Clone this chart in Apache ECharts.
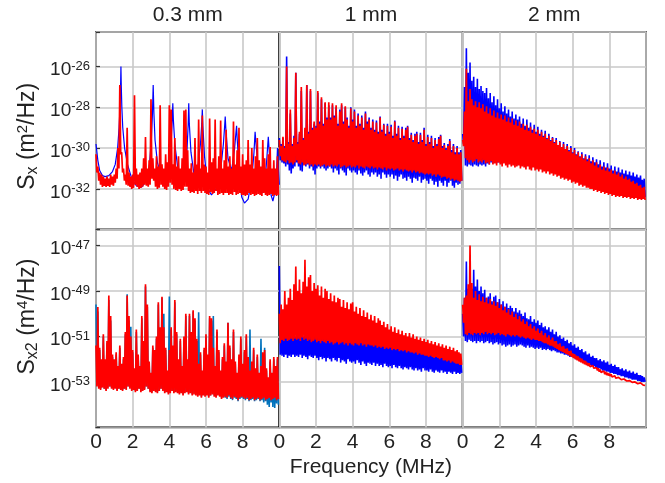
<!DOCTYPE html>
<html>
<head>
<meta charset="utf-8">
<script src="https://cdn.jsdelivr.net/npm/echarts@6/dist/echarts.min.js"></script>
<style>
  html, body { margin: 0; padding: 0; background: #fff; }
  #chart { width: 665px; height: 483px; }
</style>
</head>
<body>
<div id="chart"></div>
<script>
// Displacement noise spectra for three thicknesses: S_x (top row) and S_x2 (bottom row).
// All spectra are stored as log10 of the PSD. Dense traces are stored as upper (Hi)
// and lower (Lo) excursions sampled every 0.1 MHz from 0 to 9.9 MHz.

const thicknesses = ['0.3 mm', '1 mm', '2 mm'];
const freqTicks = [0, 2, 4, 6, 8];
const sxExponents = [-32, -30, -28, -26];
const sx2Exponents = [-53, -51, -49, -47];
const sxRange = [-34, -24.301];
const sx2Range = [-55, -46.301];
const sampleStep = 0.1;

// ---------- S_x, 0.3 mm ----------
// blue trace: [frequency MHz, log10 Sx]
const sxThinBlue = [
  [0,-29.8],[0.1,-30.6],[0.2,-31.1],[0.35,-31.35],[0.5,-31.4],[0.7,-31.35],[0.9,-31.15],[1.05,-30.8],[1.18,-30.0],[1.26,-29.0],
  [1.31,-28.0],[1.34,-27.0],[1.36,-26.0],[1.38,-27.0],[1.41,-28.0],[1.46,-29.0],[1.56,-30.0],[1.72,-30.8],[1.95,-31.5],[2.2,-31.85],
  [2.5,-31.9],[2.75,-31.6],[2.92,-30.8],[3.02,-29.6],[3.08,-28.3],[3.12,-26.9],[3.16,-28.3],[3.22,-29.6],[3.35,-30.7],[3.6,-31.5],
  [3.85,-31.4],[4.0,-30.8],[4.1,-29.7],[4.16,-28.6],[4.19,-27.8],[4.22,-28.6],[4.3,-29.8],[4.45,-30.9],[4.7,-31.8],[4.85,-31.3],
  [4.97,-30.0],[5.03,-28.8],[5.06,-27.8],[5.09,-28.8],[5.18,-30.2],[5.35,-31.3],[5.55,-31.0],[5.7,-29.8],[5.77,-28.8],[5.8,-28.1],
  [5.83,-28.9],[5.92,-30.4],[6.1,-32.0],[6.3,-32.3],[6.55,-32.0],[6.8,-31.1],[6.95,-29.8],[7.02,-28.9],[7.05,-28.45],[7.08,-29.0],
  [7.2,-30.5],[7.4,-31.1],[7.55,-30.1],[7.63,-29.3],[7.67,-28.9],[7.7,-29.5],[7.8,-31.0],[7.95,-32.4],[8.1,-32.7],[8.3,-32.5],
  [8.5,-31.5],[8.62,-30.2],[8.68,-29.2],[8.73,-29.8],[8.85,-31.0],[9.05,-32.2],[9.2,-31.9],[9.32,-30.5],[9.4,-29.45],[9.46,-30.3],
  [9.55,-32.3],[9.65,-32.6],[9.75,-32.2],[9.85,-31.2],[9.9,-30.0],[9.95,-31.0],[10,-31.8]
];
const sxThinRedHi = [
  -30.3,-30.9,-31.2,-31.3,-31.4,-31.5,-31.4,-31.5,-31.3,-31.4,
  -31.3,-31.0,-30.0,-26.9,-30.2,-31.0,-31.3,-29.0,-31.2,-31.4,
  -31.3,-27.4,-31.0,-31.3,-31.2,-31.0,-30.5,-29.45,-31.0,-30.6,
  -27.6,-30.5,-31.0,-30.4,-30.9,-27.9,-30.8,-31.0,-30.3,-30.7,
  -27.9,-28.1,-30.8,-29.5,-30.9,-30.4,-31.0,-30.5,-28.15,-28.1,
  -30.1,-31.0,-30.75,-31.2,-29.5,-30.8,-28.6,-31.0,-28.4,-30.8,
  -30.9,-31.2,-28.55,-30.7,-30.5,-28.6,-31.0,-30.4,-28.65,-31.0,
  -30.6,-29.1,-30.9,-30.4,-31.0,-28.7,-30.8,-30.1,-29.0,-30.9,
  -30.3,-30.8,-30.6,-29.6,-30.8,-30.0,-31.0,-30.4,-29.5,-30.6,
  -30.9,-29.6,-30.5,-31.0,-30.3,-29.95,-31.0,-30.6,-31.0,-30.4
];
const sxThinRedLo = [
  -31.2,-31.6,-31.8,-31.9,-31.85,-31.9,-31.85,-31.9,-31.8,-31.85,
  -31.7,-31.5,-31.0,-30.3,-31.2,-31.6,-31.8,-31.85,-31.9,-32.0,
  -31.95,-31.8,-31.9,-32.0,-31.95,-31.9,-31.8,-31.85,-31.9,-31.8,
  -31.5,-31.6,-31.9,-32.0,-31.95,-31.8,-31.9,-32.0,-32.05,-31.9,
  -31.7,-31.8,-32.0,-32.05,-32.1,-32.0,-32.1,-32.05,-31.9,-31.9,
  -32.1,-32.2,-32.15,-32.2,-32.1,-32.25,-32.1,-32.2,-32.1,-32.2,
  -32.25,-32.3,-32.15,-32.25,-32.2,-32.1,-32.3,-32.25,-32.2,-32.3,
  -32.2,-32.2,-32.3,-32.25,-32.3,-32.15,-32.3,-32.25,-32.2,-32.3,
  -32.3,-32.35,-32.3,-32.2,-32.3,-32.25,-32.35,-32.3,-32.25,-32.3,
  -32.35,-32.2,-32.3,-32.35,-32.3,-32.25,-32.35,-32.3,-32.35,-32.3
];

// ---------- S_x, 1 mm ----------
const sxMidBlueHi = [
  -29.5,-29.8,-29.5,-29.9,-25.5,-29.7,-28.3,-29.8,-29.4,-26.3,
  -29.7,-29.3,-27.2,-29.5,-29.1,-26.9,-29.2,-27.2,-29.0,-28.8,
  -28.9,-27.3,-28.7,-27.6,-28.8,-27.8,-28.5,-27.9,-28.5,-27.9,
  -28.4,-28.0,-28.8,-28.1,-27.9,-28.7,-28.0,-28.5,-28.9,-28.0,
  -28.6,-28.1,-28.9,-28.3,-28.8,-28.4,-29.0,-28.2,-28.7,-28.5,
  -29.0,-28.6,-29.1,-28.65,-29.2,-28.45,-29.1,-28.8,-29.3,-28.8,
  -29.2,-28.85,-29.4,-28.65,-29.3,-28.9,-29.5,-28.95,-29.4,-29.0,
  -28.9,-29.5,-29.25,-29.6,-29.3,-29.2,-29.7,-29.25,-29.6,-29.0,
  -29.8,-29.35,-29.7,-29.4,-29.9,-29.5,-29.8,-29.45,-29.35,-29.9,
  -29.75,-30.0,-29.8,-29.55,-30.1,-29.8,-30.2,-29.9,-30.2,-30.1
];
const sxMidBlueLo = [
  -30.6,-30.7,-30.75,-30.9,-30.8,-31.1,-31.25,-31.0,-30.9,-30.7,
  -30.9,-31.1,-31.15,-30.8,-30.9,-30.8,-31.0,-30.9,-31.1,-31.3,
  -31.0,-30.9,-31.0,-30.9,-31.0,-31.1,-31.0,-30.9,-31.0,-31.2,
  -31.0,-31.1,-31.3,-31.0,-31.1,-31.2,-31.35,-31.0,-31.1,-31.2,
  -31.1,-31.2,-31.3,-31.1,-31.25,-31.35,-31.2,-31.1,-31.3,-31.4,
  -31.2,-31.3,-31.2,-31.4,-31.3,-31.5,-31.2,-31.3,-31.45,-31.3,
  -31.4,-31.3,-31.5,-31.35,-31.6,-31.4,-31.3,-31.5,-31.45,-31.6,
  -31.4,-31.5,-31.7,-31.45,-31.5,-31.6,-31.4,-31.7,-31.55,-31.5,
  -31.6,-31.75,-31.5,-31.6,-31.8,-31.65,-31.9,-31.6,-31.7,-31.85,
  -31.6,-31.9,-31.7,-31.6,-31.85,-31.95,-31.7,-31.8,-31.75,-31.6
];
const sxMidRedHi = [
  -29.6,-29.9,-29.45,-30.0,-26.0,-29.8,-28.1,-29.9,-29.5,-26.3,
  -29.8,-29.2,-27.0,-29.6,-29.0,-26.9,-29.3,-27.1,-29.1,-28.7,
  -29.0,-27.2,-28.8,-27.5,-28.9,-27.75,-28.6,-27.75,-28.6,-27.8,
  -28.5,-27.9,-28.9,-28.2,-27.8,-28.8,-27.95,-28.6,-29.0,-28.05,
  -28.7,-28.2,-29.0,-28.4,-28.9,-28.5,-29.1,-28.3,-28.8,-28.6,
  -29.1,-28.7,-29.2,-28.75,-29.3,-28.5,-29.2,-28.85,-29.4,-28.9,
  -29.3,-28.95,-29.5,-28.7,-29.4,-29.0,-29.6,-29.05,-29.5,-29.1,
  -28.95,-29.6,-29.35,-29.7,-29.4,-29.3,-29.8,-29.35,-29.7,-29.1,
  -29.9,-29.45,-29.8,-29.5,-30.0,-29.6,-29.9,-29.55,-29.4,-30.0,
  -29.85,-30.1,-29.9,-29.65,-30.2,-29.9,-30.3,-30.0,-30.3,-30.2
];
const sxMidRedLo = [
  -30.4,-30.6,-30.65,-30.7,-30.6,-30.75,-30.7,-30.8,-30.7,-30.6,
  -30.75,-30.8,-30.7,-30.85,-30.8,-30.75,-30.85,-30.8,-30.9,-30.8,
  -30.85,-30.8,-30.9,-30.85,-30.8,-30.9,-30.85,-30.9,-30.8,-30.9,
  -30.85,-30.9,-30.8,-30.95,-30.9,-30.85,-30.95,-30.9,-30.85,-30.95,
  -30.9,-30.95,-30.85,-31.0,-30.9,-30.95,-31.0,-30.9,-30.95,-31.0,
  -30.9,-31.0,-30.95,-31.05,-30.95,-31.0,-31.05,-30.95,-31.1,-31.0,
  -31.05,-31.0,-31.1,-31.05,-31.0,-31.1,-31.05,-31.15,-31.05,-31.1,
  -31.15,-31.1,-31.2,-31.1,-31.2,-31.15,-31.25,-31.2,-31.25,-31.3,
  -31.25,-31.3,-31.25,-31.35,-31.3,-31.4,-31.3,-31.35,-31.45,-31.4,
  -31.4,-31.5,-31.45,-31.55,-31.5,-31.6,-31.55,-31.6,-31.65,-31.6
];

// ---------- S_x, 2 mm ----------
const sxThickBlueHi = [
  -29.3,-27.0,-25.1,-26.3,-25.8,-26.7,-26.5,-27.0,-26.6,-27.1,
  -26.95,-27.2,-27.3,-27.05,-27.55,-27.3,-27.75,-27.45,-27.9,-27.6,
  -28.05,-27.8,-28.2,-27.95,-28.3,-28.1,-28.45,-28.2,-28.55,-28.35,
  -28.6,-28.45,-28.8,-28.55,-28.9,-28.6,-29.0,-28.75,-29.1,-28.85,
  -29.2,-28.95,-29.3,-29.1,-29.4,-29.15,-29.5,-29.3,-29.6,-29.45,
  -29.7,-29.5,-29.85,-29.65,-29.95,-29.7,-30.05,-29.8,-30.1,-29.9,
  -30.2,-30.0,-30.3,-30.15,-30.4,-30.2,-30.5,-30.3,-30.55,-30.35,
  -30.65,-30.45,-30.7,-30.55,-30.8,-30.6,-30.9,-30.7,-30.95,-30.75,
  -31.0,-30.85,-31.1,-30.9,-31.15,-30.95,-31.2,-31.05,-31.25,-31.1,
  -31.3,-31.15,-31.35,-31.2,-31.4,-31.3,-31.45,-31.35,-31.55,-31.5
];
const sxThickBlueLo = [
  -29.8,-30.85,-30.9,-30.8,-30.85,-30.9,-30.8,-30.85,-30.9,-30.8,
  -30.85,-30.8,-30.9,-30.75,-30.8,-30.7,-30.75,-30.7,-30.75,-30.7,
  -30.7,-30.75,-30.7,-30.75,-30.8,-30.75,-30.8,-30.75,-30.8,-30.85,
  -30.8,-30.85,-30.82,-30.85,-30.9,-30.85,-30.9,-30.95,-30.9,-30.95,
  -30.95,-30.98,-31.0,-31.05,-31.05,-31.1,-31.1,-31.15,-31.15,-31.2,
  -31.2,-31.25,-31.25,-31.3,-31.3,-31.35,-31.4,-31.4,-31.45,-31.5,
  -31.5,-31.55,-31.6,-31.6,-31.65,-31.7,-31.7,-31.75,-31.8,-31.8,
  -31.85,-31.85,-31.9,-31.9,-31.95,-31.95,-32.0,-32.0,-32.05,-32.05,
  -32.1,-32.1,-32.1,-32.15,-32.15,-32.2,-32.2,-32.2,-32.25,-32.25,
  -32.25,-32.3,-32.3,-32.3,-32.3,-32.35,-32.35,-32.35,-32.35,-32.4
];
const sxThickRedHi = [
  -29.6,-28.2,-26.1,-27.7,-27.1,-27.6,-27.9,-27.7,-28.0,-27.75,
  -28.05,-27.85,-28.2,-27.95,-28.3,-28.05,-28.4,-28.15,-28.5,-28.25,
  -28.55,-28.35,-28.6,-28.4,-28.7,-28.5,-28.75,-28.55,-28.85,-28.65,
  -28.9,-28.7,-29.0,-28.8,-29.1,-28.85,-29.15,-28.95,-29.25,-29.05,
  -29.3,-29.1,-29.4,-29.2,-29.45,-29.3,-29.55,-29.4,-29.65,-29.5,
  -29.75,-29.6,-29.85,-29.7,-29.95,-29.8,-30.05,-29.9,-30.15,-30.0,
  -30.25,-30.1,-30.35,-30.2,-30.45,-30.3,-30.55,-30.4,-30.65,-30.5,
  -30.75,-30.6,-30.85,-30.7,-30.95,-30.8,-31.05,-30.9,-31.1,-30.95,
  -31.15,-31.05,-31.25,-31.1,-31.3,-31.2,-31.4,-31.3,-31.5,-31.4,
  -31.55,-31.5,-31.65,-31.6,-31.75,-31.7,-31.85,-31.8,-31.95,-31.9
];
const sxThickRedLo = [
  -29.9,-30.5,-30.6,-30.7,-30.6,-30.7,-30.65,-30.55,-30.7,-30.65,
  -30.7,-30.6,-30.75,-30.7,-30.8,-30.65,-30.8,-30.75,-30.85,-30.7,
  -30.8,-30.9,-30.75,-30.85,-30.95,-30.8,-30.9,-30.85,-30.95,-30.9,
  -30.85,-31.0,-30.9,-30.95,-31.05,-30.9,-31.05,-31.1,-30.95,-31.1,
  -31.05,-31.15,-31.05,-31.2,-31.15,-31.25,-31.15,-31.3,-31.25,-31.35,
  -31.3,-31.4,-31.35,-31.5,-31.45,-31.55,-31.5,-31.6,-31.55,-31.7,
  -31.65,-31.75,-31.7,-31.85,-31.8,-31.9,-31.85,-31.95,-31.95,-32.0,
  -32.0,-32.1,-32.05,-32.15,-32.1,-32.2,-32.15,-32.25,-32.2,-32.3,
  -32.25,-32.35,-32.3,-32.4,-32.35,-32.4,-32.35,-32.45,-32.4,-32.45,
  -32.4,-32.5,-32.45,-32.5,-32.45,-32.55,-32.5,-32.55,-32.5,-32.55
];

// ---------- S_x2, 0.3 mm ----------
const sx2ThinBlueHi = [
  -49.6,-49.9,-51.6,-52.1,-51.0,-52.1,-51.3,-49.4,-50.3,-51.9,
  -52.1,-51.8,-52.4,-51.5,-52.3,-52.0,-50.9,-49.15,-50.3,-50.57,
  -51.7,-52.5,-50.8,-51.9,-52.4,-50.2,-51.3,-48.8,-49.7,-52.2,
  -52.7,-51.5,-51.7,-51.1,-49.6,-50.7,-49.3,-50.0,-51.6,-52.6,
  -49.24,-50.7,-51.5,-49.5,-50.9,-52.1,-51.2,-52.4,-51.1,-50.1,
  -52.1,-50.1,-50.9,-49.9,-50.3,-51.2,-49.94,-51.8,-52.6,-51.6,
  -51.0,-51.9,-50.2,-50.3,-50.1,-52.4,-50.8,-51.7,-52.6,-52.0,
  -51.4,-52.2,-50.4,-51.5,-52.1,-50.8,-52.2,-52.7,-51.9,-51.1,
  -52.3,-51.7,-51.0,-52.0,-50.7,-52.2,-51.6,-52.5,-51.9,-52.7,
  -51.1,-51.8,-51.5,-52.5,-52.9,-52.1,-52.7,-52.0,-52.4,-52.0
];
const sx2ThinBlueLo = [
  -53.15,-53.25,-53.3,-53.2,-53.3,-53.35,-53.25,-53.2,-53.25,-53.3,
  -53.25,-53.35,-53.3,-53.3,-53.35,-53.3,-53.3,-53.2,-53.25,-53.35,
  -53.3,-53.4,-53.35,-53.3,-53.4,-53.35,-53.3,-53.2,-53.3,-53.4,
  -53.45,-53.35,-53.4,-53.45,-53.4,-53.3,-53.35,-53.45,-53.4,-53.5,
  -53.45,-53.4,-53.45,-53.4,-53.45,-53.5,-53.45,-53.55,-53.45,-53.4,
  -53.5,-53.45,-53.55,-53.5,-53.55,-53.6,-53.55,-53.65,-53.55,-53.6,
  -53.55,-53.65,-53.6,-53.5,-53.6,-53.65,-53.55,-53.6,-53.7,-53.65,
  -53.7,-53.75,-53.65,-53.75,-53.8,-53.7,-53.75,-53.85,-53.75,-53.7,
  -53.75,-53.8,-53.75,-53.85,-53.8,-53.75,-53.85,-53.8,-53.75,-53.85,
  -53.8,-53.9,-53.85,-54.0,-54.1,-53.9,-54.1,-54.15,-53.95,-54.0
];
const sx2ThinRedHi = [
  -51.4,-49.7,-51.5,-52.0,-50.9,-52.0,-51.2,-49.2,-50.1,-51.8,
  -52.0,-51.7,-52.3,-51.4,-52.2,-51.9,-50.8,-49.2,-50.1,-51.0,
  -51.6,-52.4,-50.7,-51.8,-52.3,-50.1,-51.2,-48.7,-49.6,-52.1,
  -52.6,-51.4,-51.6,-51.0,-49.5,-50.6,-49.25,-50.6,-51.5,-52.5,
  -51.6,-50.6,-51.4,-49.4,-50.8,-52.0,-51.1,-52.3,-51.0,-50.0,
  -52.0,-50.0,-50.8,-49.85,-50.2,-51.1,-52.2,-51.7,-52.5,-51.5,
  -50.9,-51.8,-50.1,-50.2,-51.5,-52.3,-50.7,-51.6,-52.5,-51.9,
  -51.3,-52.1,-50.4,-51.4,-52.0,-50.7,-52.1,-52.6,-51.8,-51.0,
  -52.2,-51.6,-50.9,-51.9,-52.5,-52.1,-51.5,-52.4,-51.8,-52.6,
  -52.3,-51.7,-51.6,-52.4,-52.8,-52.0,-52.6,-51.9,-52.3,-51.9
];
const sx2ThinRedLo = [
  -53.2,-53.3,-53.35,-53.25,-53.3,-53.4,-53.3,-53.2,-53.3,-53.35,
  -53.3,-53.4,-53.3,-53.35,-53.4,-53.3,-53.35,-53.2,-53.3,-53.4,
  -53.35,-53.45,-53.4,-53.3,-53.45,-53.4,-53.35,-53.2,-53.3,-53.45,
  -53.5,-53.4,-53.45,-53.5,-53.4,-53.3,-53.4,-53.5,-53.45,-53.55,
  -53.5,-53.4,-53.5,-53.45,-53.5,-53.55,-53.5,-53.6,-53.5,-53.45,
  -53.55,-53.5,-53.6,-53.55,-53.6,-53.65,-53.6,-53.7,-53.6,-53.65,
  -53.6,-53.7,-53.6,-53.55,-53.65,-53.7,-53.6,-53.65,-53.75,-53.7,
  -53.65,-53.7,-53.6,-53.7,-53.75,-53.65,-53.7,-53.8,-53.7,-53.65,
  -53.7,-53.75,-53.7,-53.8,-53.75,-53.7,-53.8,-53.75,-53.7,-53.8,
  -53.75,-53.7,-53.8,-53.75,-53.7,-53.8,-53.75,-53.7,-53.8,-53.75
];

// ---------- S_x2, 1 mm ----------
const sx2MidBlueHi = [
  -47.9,-51.0,-50.9,-51.0,-50.95,-51.0,-50.9,-51.0,-50.95,-51.0,
  -50.95,-51.0,-50.9,-51.0,-50.95,-50.9,-51.0,-50.95,-51.0,-50.9,
  -51.0,-50.95,-51.05,-51.0,-50.95,-51.05,-51.0,-51.05,-51.0,-51.1,
  -51.05,-51.0,-51.1,-51.05,-51.0,-51.1,-51.05,-51.15,-51.05,-51.1,
  -51.15,-51.05,-51.1,-51.15,-51.1,-51.15,-51.1,-51.2,-51.1,-51.15,
  -51.15,-51.2,-51.15,-51.25,-51.2,-51.25,-51.2,-51.3,-51.25,-51.3,
  -51.25,-51.35,-51.3,-51.35,-51.3,-51.4,-51.35,-51.4,-51.35,-51.45,
  -51.4,-51.45,-51.45,-51.5,-51.45,-51.55,-51.5,-51.55,-51.55,-51.6,
  -51.6,-51.65,-51.6,-51.65,-51.7,-51.65,-51.7,-51.75,-51.7,-51.8,
  -51.8,-51.85,-51.8,-51.9,-51.85,-51.9,-51.95,-51.95,-52.0,-52.0
];
const sx2MidBlueLo = [
  -51.8,-51.85,-51.9,-51.8,-51.95,-51.85,-51.9,-51.8,-51.9,-51.85,
  -51.9,-51.8,-51.95,-51.85,-51.9,-52.0,-51.85,-51.9,-51.95,-51.85,
  -51.95,-52.05,-51.9,-52.0,-51.95,-52.1,-51.95,-52.0,-52.1,-51.95,
  -52.05,-52.1,-51.95,-52.15,-52.05,-52.1,-52.2,-52.0,-52.1,-52.15,
  -52.1,-52.2,-52.05,-52.15,-52.25,-52.1,-52.2,-52.3,-52.15,-52.2,
  -52.25,-52.15,-52.3,-52.2,-52.3,-52.25,-52.35,-52.2,-52.3,-52.35,
  -52.3,-52.4,-52.25,-52.35,-52.4,-52.3,-52.4,-52.45,-52.35,-52.4,
  -52.45,-52.35,-52.45,-52.5,-52.4,-52.5,-52.45,-52.55,-52.4,-52.5,
  -52.5,-52.55,-52.45,-52.55,-52.6,-52.5,-52.55,-52.6,-52.5,-52.6,
  -52.55,-52.65,-52.55,-52.6,-52.65,-52.55,-52.65,-52.6,-52.65,-52.6
];
const sx2MidRedHi = [
  -50.0,-49.6,-49.8,-49.0,-49.6,-49.3,-48.9,-49.4,-48.7,-47.92,
  -49.0,-48.5,-49.1,-48.6,-47.63,-48.8,-48.4,-48.3,-49.0,-48.65,
  -48.9,-48.75,-49.2,-48.8,-49.3,-48.9,-49.0,-49.35,-49.1,-49.45,
  -49.2,-49.5,-49.3,-49.35,-49.7,-49.4,-49.75,-49.5,-49.8,-49.55,
  -49.5,-49.9,-49.7,-50.0,-49.75,-50.1,-49.85,-50.15,-49.95,-50.25,
  -50.05,-50.3,-50.1,-50.4,-50.2,-50.3,-50.5,-50.35,-50.6,-50.45,
  -50.7,-50.55,-50.8,-50.6,-50.85,-50.7,-50.9,-50.75,-50.95,-50.85,
  -51.0,-50.85,-51.05,-50.9,-51.1,-51.0,-51.15,-51.05,-51.2,-51.1,
  -51.25,-51.15,-51.3,-51.2,-51.35,-51.25,-51.4,-51.3,-51.45,-51.35,
  -51.5,-51.4,-51.55,-51.45,-51.6,-51.5,-51.65,-51.6,-51.7,-51.75
];
const sx2MidRedLo = [
  -51.3,-51.15,-51.2,-51.1,-51.2,-51.15,-51.1,-51.2,-51.1,-51.15,
  -51.1,-51.2,-51.05,-51.15,-51.1,-51.2,-51.15,-51.25,-51.2,-51.15,
  -51.25,-51.2,-51.3,-51.2,-51.25,-51.3,-51.2,-51.3,-51.25,-51.35,
  -51.3,-51.25,-51.35,-51.3,-51.25,-51.35,-51.3,-51.4,-51.3,-51.35,
  -51.4,-51.3,-51.35,-51.4,-51.3,-51.4,-51.35,-51.45,-51.35,-51.4,
  -51.4,-51.45,-51.4,-51.5,-51.45,-51.5,-51.45,-51.55,-51.5,-51.55,
  -51.5,-51.6,-51.55,-51.6,-51.55,-51.65,-51.6,-51.65,-51.6,-51.7,
  -51.65,-51.7,-51.7,-51.75,-51.7,-51.8,-51.75,-51.8,-51.8,-51.85,
  -51.85,-51.9,-51.85,-51.9,-51.95,-51.9,-51.95,-52.0,-51.95,-52.05,
  -52.05,-52.1,-52.05,-52.15,-52.1,-52.15,-52.2,-52.2,-52.25,-52.25
];

// ---------- S_x2, 2 mm ----------
const sx2ThickBlueHi = [
  -50.0,-49.3,-47.7,-48.9,-48.3,-48.9,-48.07,-48.8,-48.5,-49.0,
  -48.8,-49.1,-48.95,-49.3,-49.24,-49.1,-49.45,-49.25,-49.2,-49.5,
  -49.35,-49.6,-49.45,-49.7,-49.55,-49.75,-49.65,-49.75,-49.9,-49.75,
  -49.95,-49.85,-50.0,-50.1,-49.95,-50.2,-50.25,-50.1,-50.35,-50.25,
  -50.4,-50.3,-50.5,-50.4,-50.6,-50.55,-50.7,-50.6,-50.8,-50.7,
  -50.9,-50.8,-51.0,-50.95,-51.1,-51.05,-51.2,-51.15,-51.3,-51.25,
  -51.4,-51.35,-51.5,-51.45,-51.6,-51.55,-51.7,-51.65,-51.8,-51.75,
  -51.9,-51.85,-51.95,-51.95,-52.05,-52.0,-52.1,-52.05,-52.15,-52.1,
  -52.25,-52.2,-52.3,-52.25,-52.35,-52.35,-52.45,-52.4,-52.5,-52.45,
  -52.55,-52.5,-52.6,-52.55,-52.65,-52.6,-52.7,-52.7,-52.75,-52.8
];
const sx2ThickBlueLo = [
  -51.0,-51.2,-51.25,-51.15,-51.2,-51.25,-51.2,-51.3,-51.2,-51.25,
  -51.2,-51.3,-51.25,-51.2,-51.3,-51.25,-51.35,-51.3,-51.25,-51.35,
  -51.3,-51.4,-51.35,-51.45,-51.4,-51.35,-51.45,-51.4,-51.35,-51.45,
  -51.4,-51.35,-51.4,-51.45,-51.5,-51.4,-51.5,-51.45,-51.5,-51.55,
  -51.5,-51.55,-51.5,-51.6,-51.55,-51.6,-51.55,-51.6,-51.65,-51.6,
  -51.65,-51.7,-51.7,-51.75,-51.75,-51.8,-51.8,-51.85,-51.9,-51.9,
  -51.95,-52.0,-52.0,-52.05,-52.1,-52.1,-52.15,-52.2,-52.2,-52.25,
  -52.3,-52.3,-52.35,-52.4,-52.4,-52.45,-52.5,-52.5,-52.55,-52.55,
  -52.6,-52.6,-52.65,-52.65,-52.7,-52.7,-52.75,-52.75,-52.8,-52.8,
  -52.85,-52.85,-52.9,-52.9,-52.9,-52.95,-52.95,-53.0,-53.0,-53.0
];
const sx2ThickRedHi = [
  -49.6,-49.3,-49.2,-48.7,-47.0,-48.65,-49.3,-49.0,-49.4,-49.15,
  -49.45,-49.25,-49.5,-49.3,-49.55,-49.35,-49.6,-49.45,-49.65,-49.5,
  -49.75,-49.6,-49.85,-49.7,-49.95,-49.8,-50.05,-49.9,-50.15,-50.0,
  -50.25,-50.1,-50.35,-50.25,-50.45,-50.35,-50.55,-50.45,-50.65,-50.55,
  -50.75,-50.65,-50.85,-50.75,-50.95,-50.85,-51.05,-50.95,-51.15,-51.05,
  -51.22,-51.2,-51.35,-51.3,-51.45,-51.42,-51.55,-51.52,-51.65,-51.62,
  -51.75,-51.78,-51.85,-51.88,-51.95,-51.98,-52.05,-52.08,-52.15,-52.18,
  -52.25,-52.28,-52.33,-52.37,-52.4,-52.45,-52.5,-52.52,-52.55,-52.6,
  -52.63,-52.66,-52.7,-52.73,-52.76,-52.8,-52.82,-52.85,-52.87,-52.9,
  -52.92,-52.94,-52.96,-52.98,-53.0,-53.01,-53.03,-53.04,-53.06,-53.07
];
const sx2ThickRedLo = [
  -50.4,-50.9,-50.95,-50.85,-50.9,-50.95,-50.85,-50.9,-50.85,-50.95,
  -50.85,-50.9,-50.8,-50.9,-50.85,-50.9,-50.85,-50.95,-50.9,-50.85,
  -50.95,-50.9,-50.95,-51.0,-50.9,-50.95,-51.0,-50.95,-51.0,-50.95,
  -51.0,-51.05,-51.0,-51.05,-51.1,-51.05,-51.1,-51.15,-51.1,-51.15,
  -51.15,-51.2,-51.2,-51.25,-51.3,-51.3,-51.35,-51.4,-51.4,-51.45,
  -51.5,-51.55,-51.6,-51.64,-51.68,-51.72,-51.76,-51.8,-51.85,-51.9,
  -51.95,-52.0,-52.05,-52.1,-52.14,-52.18,-52.22,-52.26,-52.3,-52.33,
  -52.35,-52.4,-52.45,-52.5,-52.55,-52.58,-52.62,-52.66,-52.7,-52.72,
  -52.75,-52.78,-52.8,-52.83,-52.86,-52.88,-52.9,-52.92,-52.94,-52.96,
  -52.98,-53.0,-53.02,-53.04,-53.06,-53.08,-53.1,-53.12,-53.14,-53.15
];

// ---------- layout ----------
const FONT = '"Liberation Sans", Arial, Helvetica, sans-serif';
const BLUE = '#0000ff';
const STEEL_BLUE = '#0072bd';
const RED = '#ff0000';
const colLeft = [96, 279.3, 462.7];
const colWidth = 183.3;
const rowTop = [32, 229.6];
const rowHeight = [197.6, 197.8];

// interleave upper and lower excursions into one dense trace
function denseTrace(hi, lo) {
  const pts = [];
  const n = Math.min(hi.length, lo.length);
  for (let i = 0; i < n; i++) {
    const f = Math.round(i * sampleStep * 100) / 100;
    pts.push([f, hi[i]]);
    pts.push([Math.round((f + sampleStep / 2) * 1000) / 1000, lo[i]]);
  }
  return pts;
}

const panels = [
  { row: 0, col: 0, blue: sxThinBlue, blueWidth: 1.2, blueColor: BLUE, red: denseTrace(sxThinRedHi, sxThinRedLo) },
  { row: 0, col: 1, blue: denseTrace(sxMidBlueHi, sxMidBlueLo), blueWidth: 1.6, blueColor: BLUE, red: denseTrace(sxMidRedHi, sxMidRedLo) },
  { row: 0, col: 2, blue: denseTrace(sxThickBlueHi, sxThickBlueLo), blueWidth: 1.6, blueColor: BLUE, red: denseTrace(sxThickRedHi, sxThickRedLo) },
  { row: 1, col: 0, blue: denseTrace(sx2ThinBlueHi, sx2ThinBlueLo), blueWidth: 1.6, blueColor: STEEL_BLUE, red: denseTrace(sx2ThinRedHi, sx2ThinRedLo) },
  { row: 1, col: 1, blue: denseTrace(sx2MidBlueHi, sx2MidBlueLo), blueWidth: 1.6, blueColor: BLUE, red: denseTrace(sx2MidRedHi, sx2MidRedLo) },
  { row: 1, col: 2, blue: denseTrace(sx2ThickBlueHi, sx2ThickBlueLo), blueWidth: 1.6, blueColor: BLUE, red: denseTrace(sx2ThickRedHi, sx2ThickRedLo) }
];

const gridLine = { show: true, lineStyle: { color: '#c8c8c8', width: 1.6 } };

const grids = [], xAxes = [], yAxes = [], series = [];
panels.forEach((p, k) => {
  grids.push({
    left: colLeft[p.col], top: rowTop[p.row], width: colWidth, height: rowHeight[p.row],
    show: true, borderColor: '#000', borderWidth: 1.6, backgroundColor: 'transparent',
    containLabel: false
  });
  const isBottom = p.row === 1;
  const xAxis = {
    type: 'value', gridIndex: k, min: 0, max: 10, interval: 2,
    axisLine: { show: false }, axisTick: { show: false },
    splitLine: gridLine,
    axisLabel: {
      show: isBottom, margin: 4, fontSize: 21, fontFamily: FONT, color: '#222',
      formatter: v => (freqTicks.indexOf(v) >= 0 ? String(v) : '')
    }
  };
  if (isBottom && p.col === 1) {
    Object.assign(xAxis, {
      name: 'Frequency (MHz)', nameLocation: 'middle', nameGap: 29,
      nameTextStyle: { fontSize: 21, fontFamily: FONT, color: '#222' }
    });
  }
  xAxes.push(xAxis);

  const range = isBottom ? sx2Range : sxRange;
  const exps = isBottom ? sx2Exponents : sxExponents;
  const yAxis = {
    type: 'value', gridIndex: k, min: range[0], max: range[1], interval: 2,
    axisLine: { show: false },
    axisTick: { show: p.col === 0, inside: true, length: 4, lineStyle: { color: '#333', width: 1.2 } },
    splitLine: gridLine,
    axisLabel: {
      show: p.col === 0, margin: 6, color: '#222', padding: [6, 0, 0, 0],
      formatter: v => (exps.indexOf(v) >= 0 ? '{b|10}{s|' + v + '}' : ''),
      rich: {
        b: { fontSize: 19, fontFamily: FONT, color: '#222', lineHeight: 20, verticalAlign: 'bottom' },
        s: { fontSize: 13, fontFamily: FONT, color: '#222', lineHeight: 12, verticalAlign: 'top' }
      }
    }
  };
  if (p.col === 0) {
    Object.assign(yAxis, {
      name: isBottom ? '{m|S}{sub|x2}{m| (m}{sup|4}{m|/Hz)}' : '{m|S}{sub|x}{m| (m}{sup|2}{m|/Hz)}',
      nameLocation: 'middle', nameRotate: 90, nameGap: 55,
      nameTextStyle: {
        padding: isBottom ? [0, 0, 0, 24] : [0, 11, 0, 0],
        rich: {
          m: { fontSize: 23, fontFamily: FONT, color: '#222', lineHeight: 26 },
          sub: { fontSize: 16, fontFamily: FONT, color: '#222', lineHeight: 16, verticalAlign: 'bottom' },
          sup: { fontSize: 15, fontFamily: FONT, color: '#222', lineHeight: 15, verticalAlign: 'top' }
        }
      }
    });
  }
  yAxes.push(yAxis);

  const common = {
    type: 'line', xAxisIndex: k, yAxisIndex: k, symbol: 'none', showSymbol: false,
    silent: true, animation: false, clip: true, sampling: null, progressive: 0
  };
  series.push(Object.assign({}, common, {
    data: p.blue, z: 2, lineStyle: { color: p.blueColor, width: p.blueWidth, join: 'bevel' }
  }));
  series.push(Object.assign({}, common, {
    data: p.red, z: 3, lineStyle: { color: RED, width: 1.7, join: 'bevel' }
  }));
});

const titles = thicknesses.map((t, c) => ({
  type: 'text', x: colLeft[c] + colWidth / 2, y: 15,
  style: { text: t, font: '21px ' + FONT, fill: '#222', textAlign: 'center', textVerticalAlign: 'middle' }
}));

const chart = echarts.init(document.getElementById('chart'), null, { renderer: 'canvas' });
chart.setOption({
  animation: false,
  backgroundColor: '#fff',
  grid: grids,
  xAxis: xAxes,
  yAxis: yAxes,
  series: series,
  graphic: titles
});
</script>
</body>
</html>
